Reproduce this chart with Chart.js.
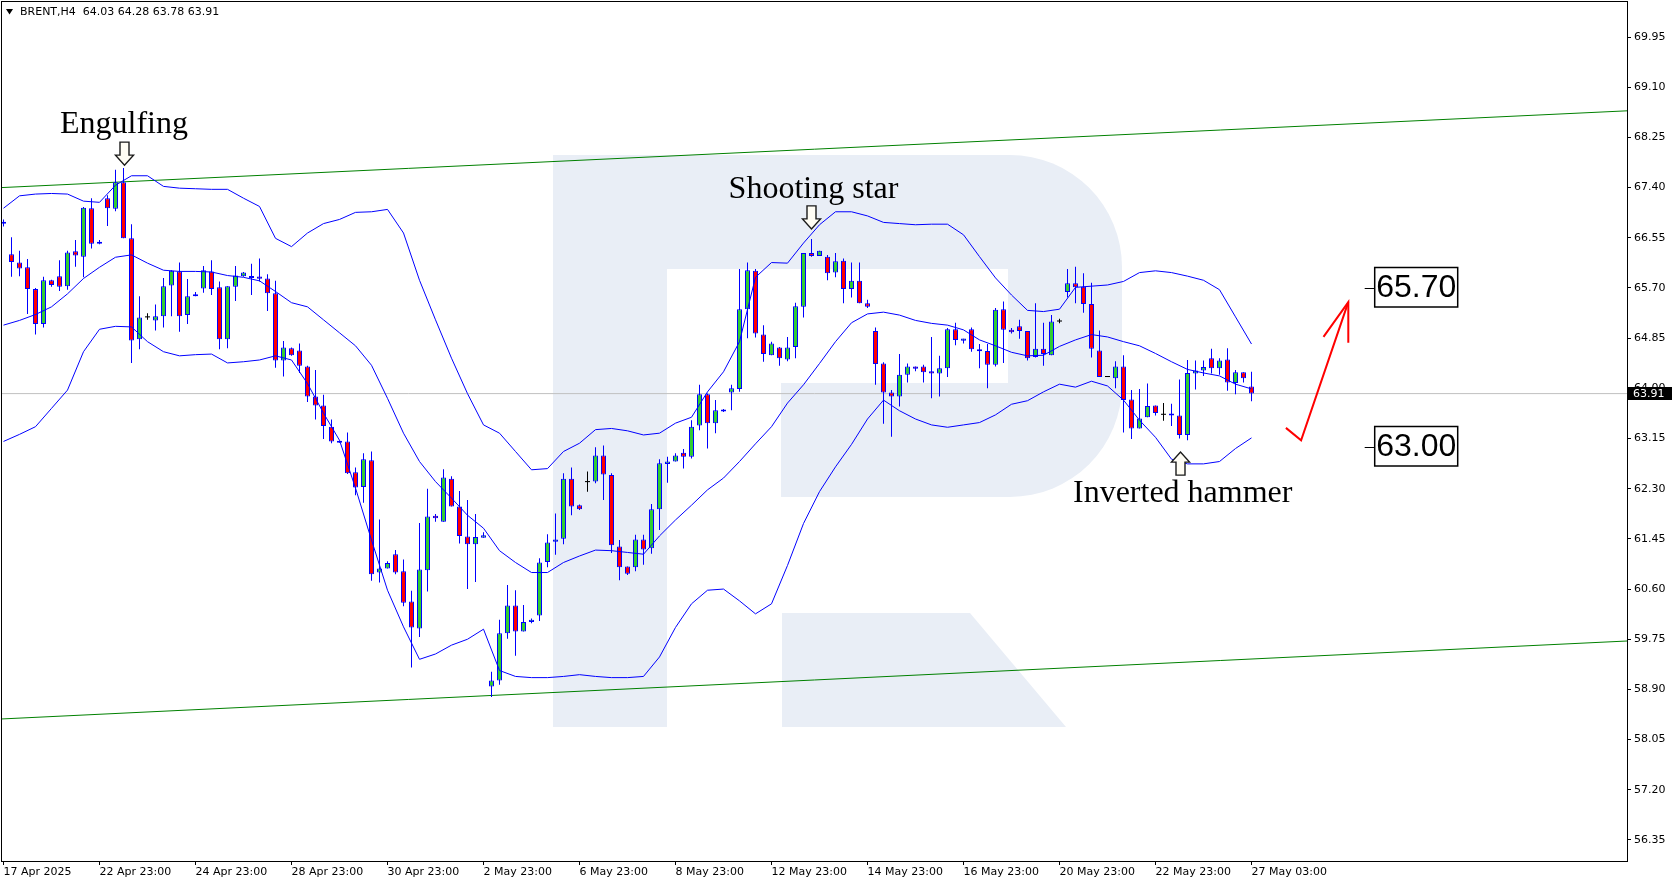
<!DOCTYPE html>
<html>
<head>
<meta charset="utf-8">
<title>BRENT,H4</title>
<script src="https://cdn.jsdelivr.net/npm/chart.js@4.4.1/dist/chart.umd.min.js"></script>
<style>
html, body { margin: 0; padding: 0; background: #fff; }
#wrap { width: 1677px; height: 882px; }
</style>
</head>
<body>
<div id="wrap"><canvas id="chart" width="1677" height="882"></canvas></div>
<script>
// H4 bars, numbered 0..156 from the left edge
var opens = [66.82,66.27,66.13,66.05,65.68,65.09,65.83,65.90,65.73,66.32,
  66.23,67.05,66.45,67.22,67.04,67.49,66.54,64.83,65.21,65.15,
  65.22,65.74,65.98,65.24,65.56,65.69,65.98,65.71,64.83,65.72,
  65.90,65.88,65.88,65.86,65.61,64.47,64.68,64.64,64.37,63.86,
  63.71,63.35,63.10,63.10,62.58,62.33,62.78,60.88,60.95,61.19,
  60.90,60.39,59.93,60.92,61.84,61.74,62.47,62.00,61.49,61.36,
  61.47,58.95,59.05,59.85,60.32,59.88,60.04,60.15,61.06,61.40,
  61.45,62.47,62.02,62.42,62.42,62.86,62.53,61.32,60.98,60.97,
  61.44,61.29,61.95,62.72,62.76,62.91,62.84,63.37,63.90,63.41,
  63.62,63.93,63.99,65.34,65.99,64.91,64.56,64.69,64.49,64.70,
  65.38,66.29,66.24,66.23,65.96,66.16,65.68,65.82,65.44,64.97,
  64.42,63.93,63.86,64.23,64.37,64.37,64.29,64.25,64.34,65.00,
  64.81,65.00,64.66,64.63,64.40,65.34,64.99,65.05,64.97,64.53,
  64.67,64.56,65.14,65.63,65.78,65.72,65.43,64.64,64.20,64.17,
  64.37,63.81,63.32,63.51,63.71,63.56,63.56,63.54,63.21,64.25,
  64.30,64.51,64.34,64.49,64.09,64.27,64.03];
var highs = [66.86,66.56,66.33,66.19,65.70,65.89,65.84,66.17,66.33,66.51,
  67.07,67.22,66.51,67.27,67.70,67.73,66.78,65.56,65.27,65.42,
  65.87,66.00,66.13,65.85,65.63,66.07,66.17,65.81,65.73,66.07,
  65.97,66.11,66.20,65.93,65.82,64.80,64.69,64.76,64.38,64.31,
  63.89,63.47,63.11,63.25,62.66,62.90,62.93,61.78,61.07,61.26,
  61.10,60.57,61.72,62.30,61.87,62.63,62.51,62.26,62.11,61.87,
  61.56,59.20,60.08,60.67,60.58,60.33,60.10,61.12,61.53,61.88,
  62.56,62.66,62.03,62.59,63.00,63.03,62.56,61.43,60.98,61.52,
  61.52,62.04,62.80,62.84,62.90,62.97,63.46,64.06,63.91,63.80,
  63.65,64.06,66.02,66.13,66.02,65.07,64.79,64.70,64.87,65.45,
  66.29,66.53,66.33,66.26,66.29,66.20,66.13,66.13,65.50,65.03,
  64.44,63.97,64.58,64.42,64.37,64.40,64.87,64.55,65.02,65.11,
  64.84,65.03,64.75,64.75,65.36,65.47,65.02,65.16,64.97,65.44,
  65.11,65.24,65.18,66.02,66.06,65.95,65.79,64.98,64.21,64.46,
  64.56,63.97,63.99,64.08,63.71,63.75,63.74,64.15,64.48,64.47,
  64.47,64.67,64.51,64.68,64.31,64.27,64.28];
var lows = [66.74,65.89,65.90,65.26,64.91,65.03,65.72,65.65,65.67,66.06,
  65.88,66.37,66.44,66.75,67.00,66.54,64.43,64.66,65.16,64.98,
  65.03,65.22,64.96,65.09,65.56,65.62,65.58,64.66,64.68,65.48,
  65.89,65.58,65.81,65.31,64.35,64.20,64.55,64.26,63.77,63.47,
  63.14,63.07,63.08,62.55,62.19,62.06,60.74,60.71,60.95,60.85,
  60.31,59.27,59.79,60.56,61.74,61.74,62.00,61.37,60.60,60.72,
  61.47,58.77,58.98,59.76,59.47,59.88,60.02,60.06,60.97,61.18,
  61.36,61.85,61.94,62.25,62.39,62.11,61.21,60.75,60.84,60.90,
  61.01,61.20,61.60,62.40,62.76,62.64,62.81,63.29,62.98,63.24,
  63.60,63.63,63.94,64.85,64.86,64.45,64.56,64.38,64.46,64.51,
  65.20,66.23,66.24,65.83,65.88,65.44,65.54,65.44,65.36,64.06,
  63.40,63.18,63.69,64.10,64.29,64.10,63.83,63.86,64.19,64.73,
  64.76,64.62,64.34,64.00,64.37,64.43,64.93,64.84,64.47,64.52,
  64.38,64.56,65.10,65.54,65.44,65.28,64.52,64.19,64.19,64.00,
  63.25,63.14,63.32,63.51,63.54,63.45,63.36,63.15,63.12,63.98,
  64.21,64.25,64.23,63.96,63.90,64.10,63.78];
var closes = [66.79,66.14,66.03,65.68,65.09,65.83,65.75,65.72,66.30,66.25,
  67.06,66.45,66.48,67.05,67.49,66.54,64.81,65.20,65.21,65.22,
  65.73,65.99,65.22,65.56,65.59,66.00,65.68,64.83,65.73,65.91,
  65.96,65.89,65.87,65.61,64.47,64.69,64.56,64.38,63.86,63.71,
  63.36,63.10,63.09,62.56,62.32,62.80,60.85,60.95,61.04,60.88,
  60.37,59.95,60.93,61.83,61.80,62.49,62.00,61.50,61.36,61.48,
  61.51,59.05,59.85,60.32,59.88,60.04,60.08,61.05,61.39,61.44,
  62.47,62.00,61.95,62.42,62.86,62.54,61.34,60.97,60.86,61.44,
  61.27,61.95,62.73,62.76,62.86,62.84,63.35,63.90,63.41,63.63,
  63.63,64.00,65.34,66.00,64.93,64.58,64.76,64.51,64.69,65.39,
  66.29,66.24,66.33,65.95,66.15,65.68,65.82,65.44,65.38,64.41,
  63.93,63.86,64.23,64.37,64.33,64.27,64.25,64.34,65.00,64.82,
  64.84,64.66,64.63,64.40,65.33,64.99,64.95,64.97,64.51,64.67,
  64.58,65.13,65.14,65.78,65.71,65.43,64.67,64.19,64.20,64.37,
  63.80,63.32,63.49,63.70,63.58,63.56,63.55,63.21,64.26,64.30,
  64.36,64.34,64.47,64.10,64.27,64.17,63.91];

// Bollinger bands, read at every second bar (0, 2, 4 ... 156)
var bbUpper = [67.05,67.26,67.29,67.30,67.29,67.17,67.15,67.44,67.60,67.60,
  67.42,67.39,67.38,67.37,67.37,67.22,67.08,66.54,66.40,66.63,
  66.79,66.86,66.98,66.99,67.03,66.63,65.83,65.16,64.51,63.91,
  63.38,63.24,62.93,62.62,62.64,62.93,63.07,63.30,63.32,63.28,
  63.21,63.24,63.41,63.51,63.94,64.28,64.79,65.88,66.13,66.12,
  66.46,66.77,66.99,66.99,66.92,66.81,66.79,66.77,66.78,66.78,
  66.60,66.23,65.87,65.58,65.32,65.30,65.34,65.71,65.73,65.75,
  65.81,65.96,65.99,65.96,65.90,65.83,65.67,65.21,64.75];
var bbMiddle = [65.07,65.15,65.25,65.38,65.60,65.86,66.05,66.22,66.26,66.12,
  66.00,65.98,65.98,65.97,65.91,65.88,65.82,65.64,65.45,65.38,
  65.16,64.94,64.72,64.39,63.83,63.24,62.76,62.42,62.14,61.85,
  61.63,61.25,61.05,60.88,60.88,61.05,61.16,61.26,61.25,61.22,
  61.19,61.50,61.77,62.02,62.28,62.48,62.76,63.06,63.35,63.75,
  64.06,64.42,64.79,65.11,65.26,65.29,65.24,65.15,65.10,65.07,
  64.99,64.82,64.72,64.61,64.55,64.56,64.71,64.82,64.91,64.87,
  64.79,64.72,64.59,64.45,64.32,64.26,64.21,64.07,63.99];
var bbLower = [63.10,63.22,63.35,63.66,63.97,64.62,65.00,65.05,65.04,64.79,
  64.62,64.55,64.57,64.58,64.43,64.45,64.48,64.55,64.48,64.08,
  63.58,63.12,62.31,61.43,60.58,59.96,59.41,59.50,59.65,59.75,
  59.92,59.22,59.12,59.10,59.10,59.12,59.15,59.12,59.10,59.10,
  59.12,59.45,59.95,60.35,60.58,60.60,60.40,60.18,60.35,61.00,
  61.71,62.25,62.67,63.05,63.48,63.80,63.62,63.48,63.38,63.34,
  63.38,63.42,63.55,63.73,63.79,63.94,64.07,64.02,64.12,64.04,
  63.80,63.46,63.17,62.80,62.72,62.72,62.76,62.98,63.16];

var timeTickBars = [0,12,24,36,48,60,72,84,96,108,120,132,144,156];
var timeTickLabels = ['17 Apr 2025','22 Apr 23:00','24 Apr 23:00','28 Apr 23:00','30 Apr 23:00',
  '2 May 23:00','6 May 23:00','8 May 23:00','12 May 23:00','14 May 23:00','16 May 23:00',
  '20 May 23:00','22 May 23:00','27 May 03:00'];
var priceTicks = [56.35,57.20,58.05,58.90,59.75,60.60,61.45,62.30,63.15,64.00,
  64.85,65.70,66.55,67.40,68.25,69.10,69.95];

// channel lines, at the two edges of the plot
var channelX = [-0.1875, 202.9375];
var channelTop = [67.40, 68.70];
var channelBottom = [58.40, 59.72];

var lastPrice = 63.91;
var targetLevels = [65.70, 63.00];

// red forecast arrow
var arrowX = [160.3, 162.2, 168.1];
var arrowY = [63.33, 63.12, 65.46];
var arrowHeadX = [165.0, 168.1, 168.1];
var arrowHeadY = [64.87, 65.46, 64.77];

var notes = [
  { text: 'Engulfing', bar: 15.06, price: 68.32 },
  { text: 'Shooting star', bar: 101.25, price: 67.22 },
  { text: 'Inverted hammer', bar: 147.4, price: 62.08 }
];
var markers = [
  { bar: 15, price: 67.78, dir: 'down' },
  { bar: 100.95, price: 66.70, dir: 'down' },
  { bar: 147.06, price: 62.92, dir: 'up' }
];

var GREEN = '#32cd32', RED = '#ff0000', BLUE = '#0000ff';

var wickData = [], wickColors = [];
var bodyData = [], bodyFill = [], bodyEdge = [], bodyBorder = [];
for (var i = 0; i < opens.length; i++) {
  var o = opens[i], c = closes[i];
  wickData.push({ x: i, y: [lows[i], highs[i]] });
  if (o === c) {
    bodyData.push({ x: i, y: [o - 0.009, o + 0.009] });
    bodyFill.push('#000'); bodyEdge.push('#000'); bodyBorder.push(0);
    wickColors.push('#000');
  } else {
    var lo = Math.min(o, c), hi = Math.max(o, c);
    if (hi - lo < 0.035) { var m = (hi + lo) / 2; lo = m - 0.0175; hi = m + 0.0175; }
    bodyData.push({ x: i, y: [lo, hi] });
    bodyFill.push(c > o ? GREEN : RED); bodyEdge.push(BLUE); bodyBorder.push(1);
    wickColors.push(BLUE);
  }
}

function band(vals) {
  return vals.map(function (v, k) { return { x: k * 2, y: v }; });
}
function pts(xs, ys) {
  return xs.map(function (x, k) { return { x: x, y: ys[k] }; });
}

var watermark = {
  id: 'watermark',
  beforeDatasetsDraw: function (chart) {
    var ctx = chart.ctx, a = chart.chartArea;
    ctx.save();
    ctx.beginPath();
    ctx.rect(a.left, a.top, a.width, a.height);
    ctx.clip();
    ctx.fillStyle = '#e9eef6';
    ctx.beginPath();
    ctx.moveTo(553, 155);
    ctx.lineTo(1010, 155);
    ctx.arcTo(1122, 155, 1122, 267, 112);
    ctx.lineTo(1122, 385);
    ctx.arcTo(1122, 497, 1010, 497, 112);
    ctx.lineTo(553, 497);
    ctx.closePath();
    ctx.fill();
    ctx.fillRect(553, 155, 114, 572);
    ctx.beginPath();
    ctx.moveTo(782, 613);
    ctx.lineTo(970, 613);
    ctx.lineTo(1066, 727);
    ctx.lineTo(782, 727);
    ctx.closePath();
    ctx.fill();
    ctx.fillStyle = '#ffffff';
    ctx.fillRect(667, 269, 341, 114);
    ctx.fillRect(667, 269, 114, 228);
    ctx.restore();
  }
};

var overlay = {
  id: 'overlay',
  afterDatasetsDraw: function (chart) {
    var ctx = chart.ctx, xs = chart.scales.x, ys = chart.scales.y;
    ctx.save();
    // hollow arrows
    markers.forEach(function (mk) {
      var cx = Math.round(xs.getPixelForValue(mk.bar)) + 0.5;
      var t = ys.getPixelForValue(mk.price);
      var s = mk.dir === 'down' ? -1 : 1;
      ctx.beginPath();
      ctx.moveTo(cx - 4.5, t + s * 23);
      ctx.lineTo(cx + 4.5, t + s * 23);
      ctx.lineTo(cx + 4.5, t + s * 10);
      ctx.lineTo(cx + 9, t + s * 10);
      ctx.lineTo(cx, t);
      ctx.lineTo(cx - 9, t + s * 10);
      ctx.lineTo(cx - 4.5, t + s * 10);
      ctx.closePath();
      ctx.fillStyle = '#fffdf4';
      ctx.fill();
      ctx.strokeStyle = '#1a1a1a';
      ctx.lineWidth = 1.4;
      ctx.stroke();
    });
    // pattern names
    ctx.fillStyle = '#000';
    ctx.font = '32px "Liberation Serif", "Times New Roman", serif';
    ctx.textAlign = 'center';
    ctx.textBaseline = 'alphabetic';
    notes.forEach(function (n) {
      ctx.fillText(n.text, xs.getPixelForValue(n.bar), ys.getPixelForValue(n.price));
    });
    // target level boxes
    ctx.font = '32px "Liberation Sans", Arial, sans-serif';
    ctx.textBaseline = 'middle';
    targetLevels.forEach(function (lv) {
      var y = Math.round(ys.getPixelForValue(lv)) + 0.5;
      var x0 = xs.getPixelForValue(171.4);
      ctx.strokeStyle = '#000';
      ctx.lineWidth = 1;
      ctx.beginPath();
      ctx.moveTo(x0 - 10, y);
      ctx.lineTo(x0, y);
      ctx.stroke();
      ctx.fillStyle = '#fff';
      ctx.fillRect(x0, y - 21, 83, 39.5);
      ctx.lineWidth = 1.5;
      ctx.strokeRect(x0, y - 21, 83, 39.5);
      ctx.fillStyle = '#000';
      ctx.fillText(lv.toFixed(2), x0 + 41.5, y - 0.5);
    });
    ctx.restore();
  },
  afterDraw: function (chart) {
    var ctx = chart.ctx, a = chart.chartArea, ys = chart.scales.y;
    ctx.save();
    ctx.strokeStyle = '#000';
    ctx.lineWidth = 1;
    ctx.strokeRect(a.left - 0.5, a.top - 0.5, a.width + 1, a.height + 1);
    // current price tag
    var y = Math.round(ys.getPixelForValue(lastPrice));
    ctx.fillStyle = '#000';
    ctx.fillRect(a.right + 1, y - 7, 44, 13);
    ctx.fillStyle = '#fff';
    ctx.font = '11px "DejaVu Sans", sans-serif';
    ctx.textAlign = 'left';
    ctx.textBaseline = 'middle';
    ctx.fillText(lastPrice.toFixed(2), a.right + 6, y);
    // symbol header
    ctx.fillStyle = '#000';
    ctx.beginPath();
    ctx.moveTo(6, 9);
    ctx.lineTo(13, 9);
    ctx.lineTo(9.5, 14.5);
    ctx.closePath();
    ctx.fill();
    ctx.fillStyle = '#000';
    ctx.fillText('BRENT,H4  64.03 64.28 63.78 63.91', 20, 12);
    ctx.restore();
  }
};

Chart.defaults.font.family = '"DejaVu Sans", sans-serif';
Chart.defaults.font.size = 11;
Chart.defaults.color = '#000';

new Chart(document.getElementById('chart'), {
  type: 'bar',
  data: {
    datasets: [
      { type: 'line', data: pts(channelX, [lastPrice, lastPrice]), borderColor: '#c0c0c0', borderWidth: 1, pointRadius: 0, order: 10 },
      { type: 'line', data: pts(channelX, channelTop), borderColor: '#008000', borderWidth: 1, pointRadius: 0, order: 9 },
      { type: 'line', data: pts(channelX, channelBottom), borderColor: '#008000', borderWidth: 1, pointRadius: 0, order: 9 },
      { type: 'bar', data: wickData, backgroundColor: wickColors, borderWidth: 0, barThickness: 1, grouped: false, inflateAmount: 0, order: 8 },
      { type: 'bar', data: bodyData, backgroundColor: bodyFill, borderColor: bodyEdge, borderWidth: bodyBorder,
        borderSkipped: false, barThickness: 5, grouped: false, inflateAmount: 0, order: 7 },
      { type: 'line', data: band(bbUpper), borderColor: BLUE, borderWidth: 1, pointRadius: 0, tension: 0, order: 5 },
      { type: 'line', data: band(bbMiddle), borderColor: BLUE, borderWidth: 1, pointRadius: 0, tension: 0, order: 5 },
      { type: 'line', data: band(bbLower), borderColor: BLUE, borderWidth: 1, pointRadius: 0, tension: 0, order: 5 },
      { type: 'line', data: pts(arrowX, arrowY), borderColor: RED, borderWidth: 2, pointRadius: 0, order: 2 },
      { type: 'line', data: pts(arrowHeadX, arrowHeadY), borderColor: RED, borderWidth: 2, pointRadius: 0, order: 2 }
    ]
  },
  options: {
    responsive: false,
    devicePixelRatio: 1,
    animation: false,
    events: [],
    layout: { padding: { left: 2, top: 2, right: 0, bottom: 0 } },
    plugins: { legend: { display: false }, tooltip: { enabled: false } },
    scales: {
      x: {
        type: 'linear',
        min: channelX[0],
        max: channelX[1],
        offset: false,
        border: { display: false },
        grid: { display: true, drawOnChartArea: false, drawTicks: true, tickLength: 4, color: '#000', offset: false },
        ticks: {
          autoSkip: false, maxRotation: 0, align: 'start', padding: 1,
          callback: function (v) { var k = timeTickBars.indexOf(v); return k < 0 ? '' : timeTickLabels[k]; }
        },
        afterBuildTicks: function (s) { s.ticks = timeTickBars.map(function (v) { return { value: v }; }); },
        afterFit: function (s) { s.height = 21; s.paddingLeft = 0; s.paddingRight = 0; }
      },
      y: {
        type: 'linear',
        position: 'right',
        min: 55.994,
        max: 70.543,
        border: { display: false },
        grid: { display: true, drawOnChartArea: false, drawTicks: true, tickLength: 4, color: '#000' },
        ticks: {
          padding: 3,
          callback: function (v) { return Number(v).toFixed(2); }
        },
        afterBuildTicks: function (s) { s.ticks = priceTicks.map(function (v) { return { value: v }; }); },
        afterFit: function (s) { s.width = 50; s.paddingTop = 0; s.paddingBottom = 0; }
      }
    }
  },
  plugins: [watermark, overlay]
});
</script>
</body>
</html>
